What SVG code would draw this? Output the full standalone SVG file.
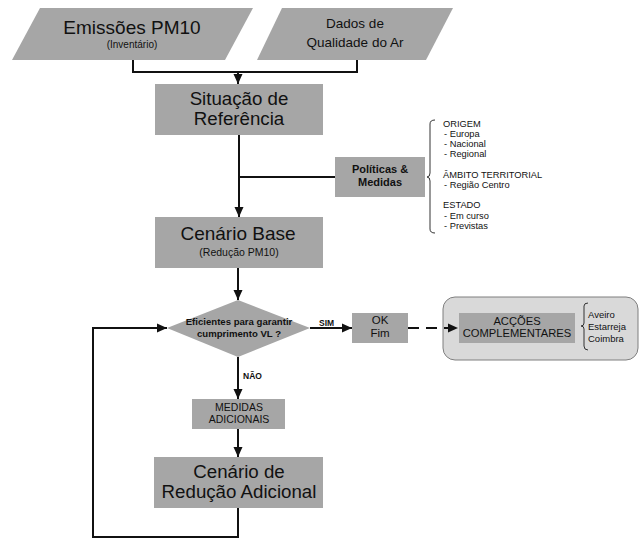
<svg xmlns="http://www.w3.org/2000/svg" width="642" height="539" viewBox="0 0 642 539">
<defs>
<style>
text{font-family:"Liberation Sans",Arial,sans-serif;fill:#111;}
.c{text-anchor:middle;}
.b{font-weight:bold;}
.shape{fill:#a6a6a6;stroke:none;}
.ln{fill:none;stroke:#111;stroke-width:2;}
.br{fill:none;stroke:#333;stroke-width:1;}
</style>
<marker id="a" viewBox="0 0 10 10" refX="10" refY="5" markerWidth="10" markerHeight="10" markerUnits="userSpaceOnUse" orient="auto">
<path d="M0,0.5 L10,5 L0,9.5 z" fill="#111"/>
</marker>
</defs>
<rect width="642" height="539" fill="#fff"/>

<g id="emissoes">
<polygon class="shape" points="40,8 253,8 225,60 12,60"/>
<text x="132" y="34" class="c" font-size="19">Emissões PM10</text>
<text x="132" y="48" class="c" font-size="10">(Inventário)</text>
</g>

<g id="dados">
<polygon class="shape" points="282,8 453,8 426,60 257,60"/>
<text x="355" y="28" class="c" font-size="13.5">Dados de</text>
<text x="355" y="47" class="c" font-size="13.5">Qualidade do Ar</text>
</g>

<g id="situacao">
<rect class="shape" x="155" y="84" width="168" height="51"/>
<text x="239" y="105" class="c" font-size="18.7">Situação de</text>
<text x="239" y="125" class="c" font-size="18.7">Referência</text>
</g>

<g id="politicas">
<rect class="shape" x="335" y="157" width="90" height="40"/>
<text x="380" y="173" class="c b" font-size="11">Políticas &amp;</text>
<text x="380" y="186" class="c b" font-size="11">Medidas</text>
</g>

<g id="lista">
<path class="br" d="M435,120 Q430,120 430,124 V173 Q430,177 427,177 Q430,177 430,181 V229 Q430,233 435,233"/>
<text x="443" y="127" font-size="9.3">ORIGEM</text>
<text x="444" y="137" font-size="9.3">- Europa</text>
<text x="444" y="147" font-size="9.3">- Nacional</text>
<text x="444" y="157" font-size="9.3">- Regional</text>
<text x="443" y="178" font-size="9.3">ÂMBITO TERRITORIAL</text>
<text x="444" y="188" font-size="9.3">- Região Centro</text>
<text x="443" y="208" font-size="9.3">ESTADO</text>
<text x="444" y="219" font-size="9.3">- Em curso</text>
<text x="444" y="229" font-size="9.3">- Previstas</text>
</g>

<g id="cenario-base">
<rect class="shape" x="155" y="217" width="168" height="51"/>
<text x="238" y="240" class="c" font-size="19">Cenário Base</text>
<text x="239" y="256" class="c" font-size="10.5">(Redução PM10)</text>
</g>

<g id="decisao">
<polygon class="shape" points="238,300 310,328 238,357 167,328"/>
<text x="239" y="325" class="c b" font-size="9.6">Eficientes para garantir</text>
<text x="239" y="337" class="c b" font-size="9.6">cumprimento VL ?</text>
</g>

<g id="ok">
<rect class="shape" x="352" y="313" width="56" height="30"/>
<text x="380" y="324" class="c" font-size="11.5">OK</text>
<text x="380" y="337" class="c" font-size="11.5">Fim</text>
</g>

<g id="accoes">
<rect x="443" y="297" width="195" height="63" rx="12" ry="12" fill="#d9d9d9" stroke="#7f7f7f" stroke-width="1"/>
<rect class="shape" x="459" y="313" width="116" height="30"/>
<text x="517" y="325" class="c" font-size="11.2">ACÇÕES</text>
<text x="517" y="337" class="c" font-size="11.2">COMPLEMENTARES</text>
<path class="br" d="M588,303 Q584,303 584,306 V323 Q584,326 581,326 Q584,326 584,329 V346 Q584,350 588,350"/>
<text x="588" y="318" font-size="9.5">Aveiro</text>
<text x="588" y="330" font-size="9.5">Estarreja</text>
<text x="588" y="342" font-size="9.5">Coimbra</text>
</g>

<g id="medidas-adicionais">
<rect class="shape" x="192" y="399" width="93" height="30"/>
<text x="239" y="411" class="c" font-size="10.5">MEDIDAS</text>
<text x="239" y="423" class="c" font-size="10.5">ADICIONAIS</text>
</g>

<g id="cenario-reducao">
<rect class="shape" x="154" y="457" width="169" height="51"/>
<text x="239" y="478" class="c" font-size="18.7">Cenário de</text>
<text x="239" y="498" class="c" font-size="18.7">Redução Adicional</text>
</g>

<g id="connectors">
<path class="ln" d="M133,60 V72 H357 V60"/>
<path class="ln" d="M238,72 V84" marker-end="url(#a)"/>
<path class="ln" d="M239,135 V217" marker-end="url(#a)"/>
<path class="ln" d="M239,177 H335"/>
<path class="ln" d="M238,268 V300" marker-end="url(#a)"/>
<path class="ln" d="M310,328 H352" marker-end="url(#a)"/>
<path class="ln" d="M408,328 H458" stroke-dasharray="11,7" marker-end="url(#a)"/>
<path class="ln" d="M238,357 V399" marker-end="url(#a)"/>
<path class="ln" d="M238,429 V457" marker-end="url(#a)"/>
<path class="ln" d="M238,508 V537 H93 V328 H167" marker-end="url(#a)"/>
<text x="319" y="326" class="b" font-size="8.5">SIM</text>
<text x="243" y="379" class="b" font-size="8.5">NÃO</text>
</g>
</svg>
